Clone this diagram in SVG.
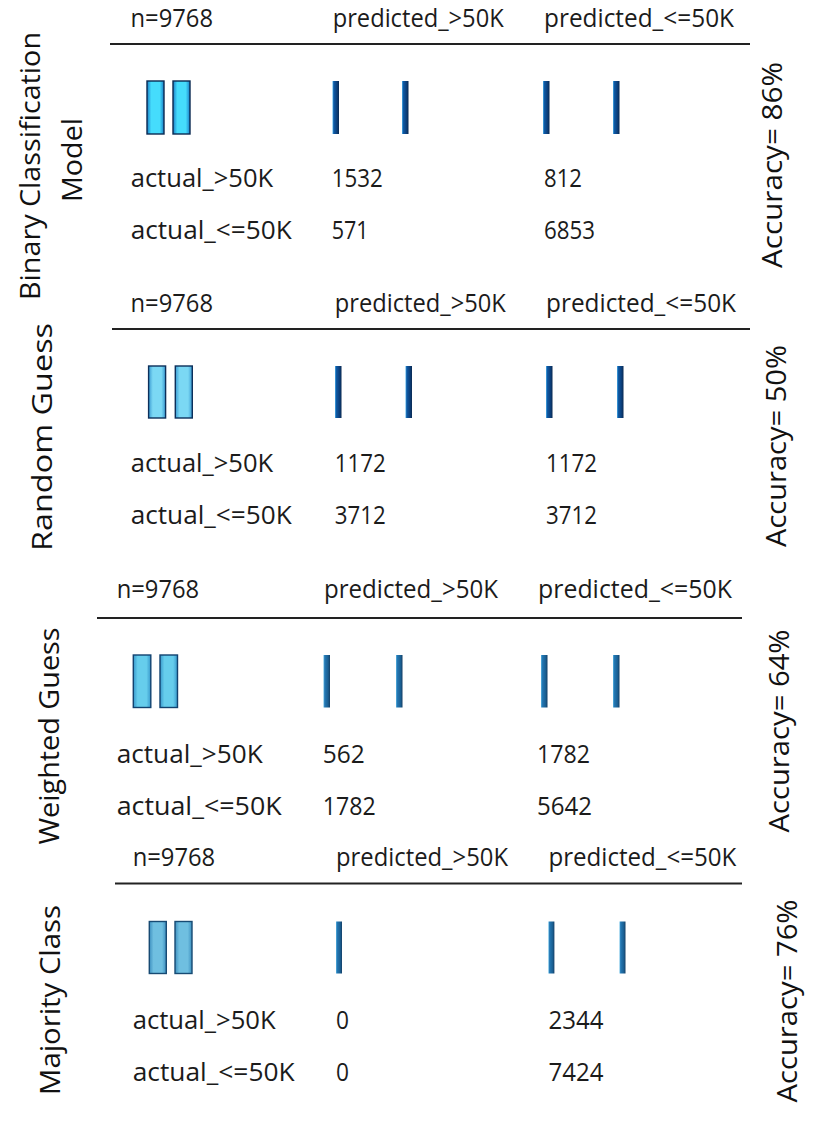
<svg xmlns="http://www.w3.org/2000/svg" width="828" height="1123" viewBox="0 0 828 1123">
  <defs>
    <style>
      .t { font-family: "Open Sans", "Noto Sans", "Liberation Sans", sans-serif; font-size: 26px; fill: #1b1b1b; }
      .v { font-family: "Open Sans", "Noto Sans", "Liberation Sans", sans-serif; font-size: 31px; fill: #111; }
      .rule { stroke: #222; stroke-width: 1.8; }
      .w1 { fill: url(#gw1); stroke: #0a2a52; stroke-width: 1.4; }
      .w2 { fill: url(#gw2); stroke: #0c2f5a; stroke-width: 1.4; }
      .w3 { fill: url(#gw3); stroke: #12426f; stroke-width: 1.4; }
      .w4 { fill: url(#gw4); stroke: #174a73; stroke-width: 1.4; }
      .n1 { fill: url(#gn1); }
      .n3 { fill: url(#gn3); }
    </style>
    <linearGradient id="gw1" x1="0" y1="0" x2="1" y2="0">
      <stop offset="0" stop-color="#1a7fc8"/>
      <stop offset="0.25" stop-color="#45dcfc"/>
      <stop offset="0.75" stop-color="#45dcfc"/>
      <stop offset="1" stop-color="#1a7fc8"/>
    </linearGradient>
    <linearGradient id="gw2" x1="0" y1="0" x2="1" y2="0">
      <stop offset="0" stop-color="#3a9ad2"/>
      <stop offset="0.25" stop-color="#7bd8f4"/>
      <stop offset="0.75" stop-color="#7bd8f4"/>
      <stop offset="1" stop-color="#3a9ad2"/>
    </linearGradient>
    <linearGradient id="gw3" x1="0" y1="0" x2="1" y2="0">
      <stop offset="0" stop-color="#3898cc"/>
      <stop offset="0.25" stop-color="#66cdec"/>
      <stop offset="0.75" stop-color="#66cdec"/>
      <stop offset="1" stop-color="#3898cc"/>
    </linearGradient>
    <linearGradient id="gw4" x1="0" y1="0" x2="1" y2="0">
      <stop offset="0" stop-color="#3d8fbf"/>
      <stop offset="0.25" stop-color="#6fbfe0"/>
      <stop offset="0.75" stop-color="#6fbfe0"/>
      <stop offset="1" stop-color="#3d8fbf"/>
    </linearGradient>
    <linearGradient id="gn1" x1="0" y1="0" x2="1" y2="0">
      <stop offset="0" stop-color="#4fb0e8"/>
      <stop offset="0.2" stop-color="#0e5aa6"/>
      <stop offset="0.7" stop-color="#0b3d78"/>
      <stop offset="1" stop-color="#0a2a52"/>
    </linearGradient>
    <linearGradient id="gn3" x1="0" y1="0" x2="1" y2="0">
      <stop offset="0" stop-color="#5db6e2"/>
      <stop offset="0.2" stop-color="#2478b4"/>
      <stop offset="0.7" stop-color="#1a5f92"/>
      <stop offset="1" stop-color="#143f66"/>
    </linearGradient>
  </defs>
  <rect width="828" height="1123" fill="#ffffff"/>

  <!-- Panel 1 -->
  <g id="panel-binary">
    <text class="v" transform="translate(40,166) rotate(-90) scale(1,0.88)" text-anchor="middle" textLength="268" lengthAdjust="spacingAndGlyphs">Binary Classification</text>
    <text class="v" transform="translate(82,160) rotate(-90) scale(1,0.88)" text-anchor="middle" textLength="84" lengthAdjust="spacingAndGlyphs">Model</text>
    <text class="t" x="130.5" y="27" textLength="82.5" lengthAdjust="spacingAndGlyphs">n=9768</text>
    <text class="t" x="332.7" y="27" textLength="171" lengthAdjust="spacingAndGlyphs">predicted_&gt;50K</text>
    <text class="t" x="544" y="27" textLength="190" lengthAdjust="spacingAndGlyphs">predicted_&lt;=50K</text>
    <line class="rule" x1="110" y1="44" x2="750" y2="44"/>
    <rect class="w1" x="147" y="81" width="17" height="53"/>
    <rect class="w1" x="173" y="81" width="17" height="53"/>
    <rect class="n1" x="332.5" y="81" width="6.5" height="53"/>
    <rect class="n1" x="402" y="81" width="6.5" height="53"/>
    <rect class="n1" x="543" y="81" width="6.5" height="53"/>
    <rect class="n1" x="613" y="81" width="6.5" height="53"/>
    <text class="t" x="130.7" y="187" textLength="142.5" lengthAdjust="spacingAndGlyphs">actual_&gt;50K</text>
    <text class="t" x="130.7" y="239" textLength="161" lengthAdjust="spacingAndGlyphs">actual_&lt;=50K</text>
    <text class="t" x="331.7" y="187" textLength="51" lengthAdjust="spacingAndGlyphs">1532</text>
    <text class="t" x="331.7" y="239" textLength="37" lengthAdjust="spacingAndGlyphs">571</text>
    <text class="t" x="544" y="187" textLength="38" lengthAdjust="spacingAndGlyphs">812</text>
    <text class="t" x="544" y="239" textLength="51" lengthAdjust="spacingAndGlyphs">6853</text>
    <text class="v" transform="translate(782,165) rotate(-90) scale(1,0.88)" text-anchor="middle" textLength="206" lengthAdjust="spacingAndGlyphs">Accuracy= 86%</text>
  </g>

  <!-- Panel 2 -->
  <g id="panel-random">
    <text class="v" transform="translate(52,437) rotate(-90) scale(1,0.88)" text-anchor="middle" textLength="228" lengthAdjust="spacingAndGlyphs">Random Guess</text>
    <text class="t" x="130.5" y="312" textLength="82.5" lengthAdjust="spacingAndGlyphs">n=9768</text>
    <text class="t" x="334.8" y="312" textLength="171" lengthAdjust="spacingAndGlyphs">predicted_&gt;50K</text>
    <text class="t" x="546" y="312" textLength="190" lengthAdjust="spacingAndGlyphs">predicted_&lt;=50K</text>
    <line class="rule" x1="112" y1="329" x2="750" y2="329"/>
    <rect class="w2" x="148.6" y="366" width="17" height="52"/>
    <rect class="w2" x="175.3" y="366" width="17" height="52"/>
    <rect class="n1" x="335" y="366" width="6.5" height="52"/>
    <rect class="n1" x="405.5" y="366" width="6.5" height="52"/>
    <rect class="n1" x="546" y="366" width="6.5" height="52"/>
    <rect class="n1" x="617" y="366" width="6.5" height="52"/>
    <text class="t" x="130.7" y="472" textLength="142.5" lengthAdjust="spacingAndGlyphs">actual_&gt;50K</text>
    <text class="t" x="130.7" y="524" textLength="161" lengthAdjust="spacingAndGlyphs">actual_&lt;=50K</text>
    <text class="t" x="334.8" y="472" textLength="51" lengthAdjust="spacingAndGlyphs">1172</text>
    <text class="t" x="334.8" y="524" textLength="51" lengthAdjust="spacingAndGlyphs">3712</text>
    <text class="t" x="546" y="472" textLength="51" lengthAdjust="spacingAndGlyphs">1172</text>
    <text class="t" x="546" y="524" textLength="51" lengthAdjust="spacingAndGlyphs">3712</text>
    <text class="v" transform="translate(786,446) rotate(-90) scale(1,0.88)" text-anchor="middle" textLength="202" lengthAdjust="spacingAndGlyphs">Accuracy= 50%</text>
  </g>

  <!-- Panel 3 -->
  <g id="panel-weighted">
    <text class="v" transform="translate(59,736) rotate(-90) scale(1,0.88)" text-anchor="middle" textLength="217" lengthAdjust="spacingAndGlyphs">Weighted Guess</text>
    <text class="t" x="116.7" y="598" textLength="82.5" lengthAdjust="spacingAndGlyphs">n=9768</text>
    <text class="t" x="324" y="598" textLength="174" lengthAdjust="spacingAndGlyphs">predicted_&gt;50K</text>
    <text class="t" x="538" y="598" textLength="194" lengthAdjust="spacingAndGlyphs">predicted_&lt;=50K</text>
    <line class="rule" x1="97" y1="618" x2="742" y2="618"/>
    <rect class="w3" x="133.3" y="655" width="17.5" height="52.5"/>
    <rect class="w3" x="160" y="655" width="17.5" height="52.5"/>
    <rect class="n3" x="323.5" y="655" width="6.5" height="52.5"/>
    <rect class="n3" x="396" y="655" width="6.5" height="52.5"/>
    <rect class="n3" x="541" y="655" width="6.5" height="52.5"/>
    <rect class="n3" x="613" y="655" width="6.5" height="52.5"/>
    <text class="t" x="116.7" y="763" textLength="146" lengthAdjust="spacingAndGlyphs">actual_&gt;50K</text>
    <text class="t" x="116.7" y="815" textLength="165" lengthAdjust="spacingAndGlyphs">actual_&lt;=50K</text>
    <text class="t" x="322.7" y="763" textLength="42" lengthAdjust="spacingAndGlyphs">562</text>
    <text class="t" x="322.7" y="815" textLength="53" lengthAdjust="spacingAndGlyphs">1782</text>
    <text class="t" x="537" y="763" textLength="53" lengthAdjust="spacingAndGlyphs">1782</text>
    <text class="t" x="537" y="815" textLength="55" lengthAdjust="spacingAndGlyphs">5642</text>
    <text class="v" transform="translate(789,731) rotate(-90) scale(1,0.88)" text-anchor="middle" textLength="203" lengthAdjust="spacingAndGlyphs">Accuracy= 64%</text>
  </g>

  <!-- Panel 4 -->
  <g id="panel-majority">
    <text class="v" transform="translate(60,1000) rotate(-90) scale(1,0.88)" text-anchor="middle" textLength="190" lengthAdjust="spacingAndGlyphs">Majority Class</text>
    <text class="t" x="132.7" y="866" textLength="82.5" lengthAdjust="spacingAndGlyphs">n=9768</text>
    <text class="t" x="336" y="866" textLength="172" lengthAdjust="spacingAndGlyphs">predicted_&gt;50K</text>
    <text class="t" x="548.4" y="866" textLength="188" lengthAdjust="spacingAndGlyphs">predicted_&lt;=50K</text>
    <line class="rule" x1="115" y1="883.5" x2="742" y2="883.5"/>
    <rect class="w4" x="149.3" y="921.5" width="17" height="52"/>
    <rect class="w4" x="175" y="921.5" width="17" height="52"/>
    <rect class="n3" x="336" y="921.5" width="6" height="52"/>
    <rect class="n3" x="548.4" y="921.5" width="6" height="52"/>
    <rect class="n3" x="619.5" y="921.5" width="6" height="52"/>
    <text class="t" x="132.7" y="1029" textLength="143" lengthAdjust="spacingAndGlyphs">actual_&gt;50K</text>
    <text class="t" x="132.7" y="1081" textLength="162" lengthAdjust="spacingAndGlyphs">actual_&lt;=50K</text>
    <text class="t" x="336" y="1029" textLength="13" lengthAdjust="spacingAndGlyphs">0</text>
    <text class="t" x="336" y="1081" textLength="13" lengthAdjust="spacingAndGlyphs">0</text>
    <text class="t" x="548.4" y="1029" textLength="55" lengthAdjust="spacingAndGlyphs">2344</text>
    <text class="t" x="548.4" y="1081" textLength="55" lengthAdjust="spacingAndGlyphs">7424</text>
    <text class="v" transform="translate(797,1001) rotate(-90) scale(1,0.88)" text-anchor="middle" textLength="203" lengthAdjust="spacingAndGlyphs">Accuracy= 76%</text>
  </g>

  <g id="connectors"/>
</svg>
